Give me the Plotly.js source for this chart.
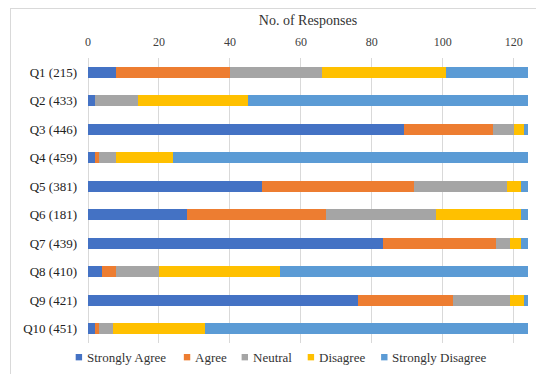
<!DOCTYPE html>
<html><head><meta charset="utf-8">
<script src="https://cdn.plot.ly/plotly-3.0.1.min.js"></script>
<style>
html,body{margin:0;padding:0;background:#fff;}
#wrap{position:relative;width:536px;height:374px;overflow:hidden;}
#chart{position:absolute;left:0;top:0;width:536px;height:374px;}
#frame{position:absolute;left:10px;top:8px;width:600px;height:400px;border-left:1px solid #d9d9d9;border-top:1px solid #d9d9d9;pointer-events:none;}
</style></head>
<body><div id="wrap"><div id="chart"></div><div id="frame"></div></div>
<script>
const questions = ["Q1 (215)","Q2 (433)","Q3 (446)","Q4 (459)","Q5 (381)","Q6 (181)","Q7 (439)","Q8 (410)","Q9 (421)","Q10 (451)"];
const seriesNames = ["Strongly Agree","Agree","Neutral","Disagree","Strongly Disagree"];
const seriesColors = ["#4472C4","#ED7D31","#A5A5A5","#FFC000","#5B9BD5"];
const stronglyAgree    = [8, 2, 89, 2, 49, 28, 83, 4, 76, 2];
const agree            = [32, 0, 25, 1, 43, 39, 32, 4, 27, 1];
const neutral          = [26, 12, 6, 5, 26, 31, 4, 12, 16, 4];
const disagree         = [35, 31, 3, 16, 4, 24, 3, 34, 4, 26];
const stronglyDisagree = [25, 81, 3, 102, 4, 4, 4, 72, 3, 93];
const seriesValues = [stronglyAgree, agree, neutral, disagree, stronglyDisagree];

const serif = "Liberation Serif, Times New Roman, DejaVu Serif, serif";
const traces = seriesNames.map((n,i)=>({
  type:'bar', orientation:'h', name:n, y:questions, x:seriesValues[i],
  marker:{color:seriesColors[i]}, showlegend:false, hoverinfo:'x+name'
}));

// manual legend (Excel-like small squares)
const W=536, ml=88.3, mr=8.3, mt=57.7, mb=30.7;
const pw=W-ml-mr, ph=374-mt-mb;
const px2x = p=>(p-ml)/pw;
const py2y = p=>(374-mb-p)/ph;
const legX = [76,184,241.7,307.7,381];
const legY = 357.5, sq = 6.4;
const shapes = [], annotations = [];
seriesNames.forEach((n,i)=>{
  shapes.push({type:'rect', xref:'paper', yref:'paper', x0:px2x(legX[i]), x1:px2x(legX[i]+sq),
    y0:py2y(legY+sq/2), y1:py2y(legY-sq/2), fillcolor:seriesColors[i], line:{width:0}});
  annotations.push({xref:'paper', yref:'paper', x:px2x(legX[i]+sq+2.6), y:py2y(legY), xanchor:'left', yanchor:'middle',
    text:n, showarrow:false, font:{family:serif,size:13,color:'#333'}});
});

const layout = {
  width:536, height:374,
  font:{family:serif},
  margin:{l:ml, r:mr, t:mt, b:mb, pad:0},
  paper_bgcolor:'#fff', plot_bgcolor:'#fff',
  barmode:'stack', bargap:0.6,
  title:{text:'No. of Responses', font:{family:serif,size:14,color:'#333'}, xref:'paper', x:0.5, xanchor:'center', yref:'container', y:1-20/374, yanchor:'middle'},
  xaxis:{side:'top', range:[0,124], dtick:20, tick0:0, showgrid:true, gridcolor:'#d9d9d9', gridwidth:1,
    zeroline:true, zerolinecolor:'#d9d9d9', zerolinewidth:1, showline:false,
    ticks:'outside', ticklen:6, tickcolor:'rgba(0,0,0,0)',
    tickfont:{family:serif,size:12,color:'#404040'}, fixedrange:true},
  yaxis:{autorange:'reversed', showgrid:false, zeroline:false, showline:false, ticks:'',
    ticklabelstandoff:10, tickfont:{family:serif,size:13,color:'#222'}, fixedrange:true},
  shapes:shapes, annotations:annotations, showlegend:false
};
Plotly.newPlot('chart', traces, layout, {displayModeBar:false, staticPlot:true});
</script></body></html>
